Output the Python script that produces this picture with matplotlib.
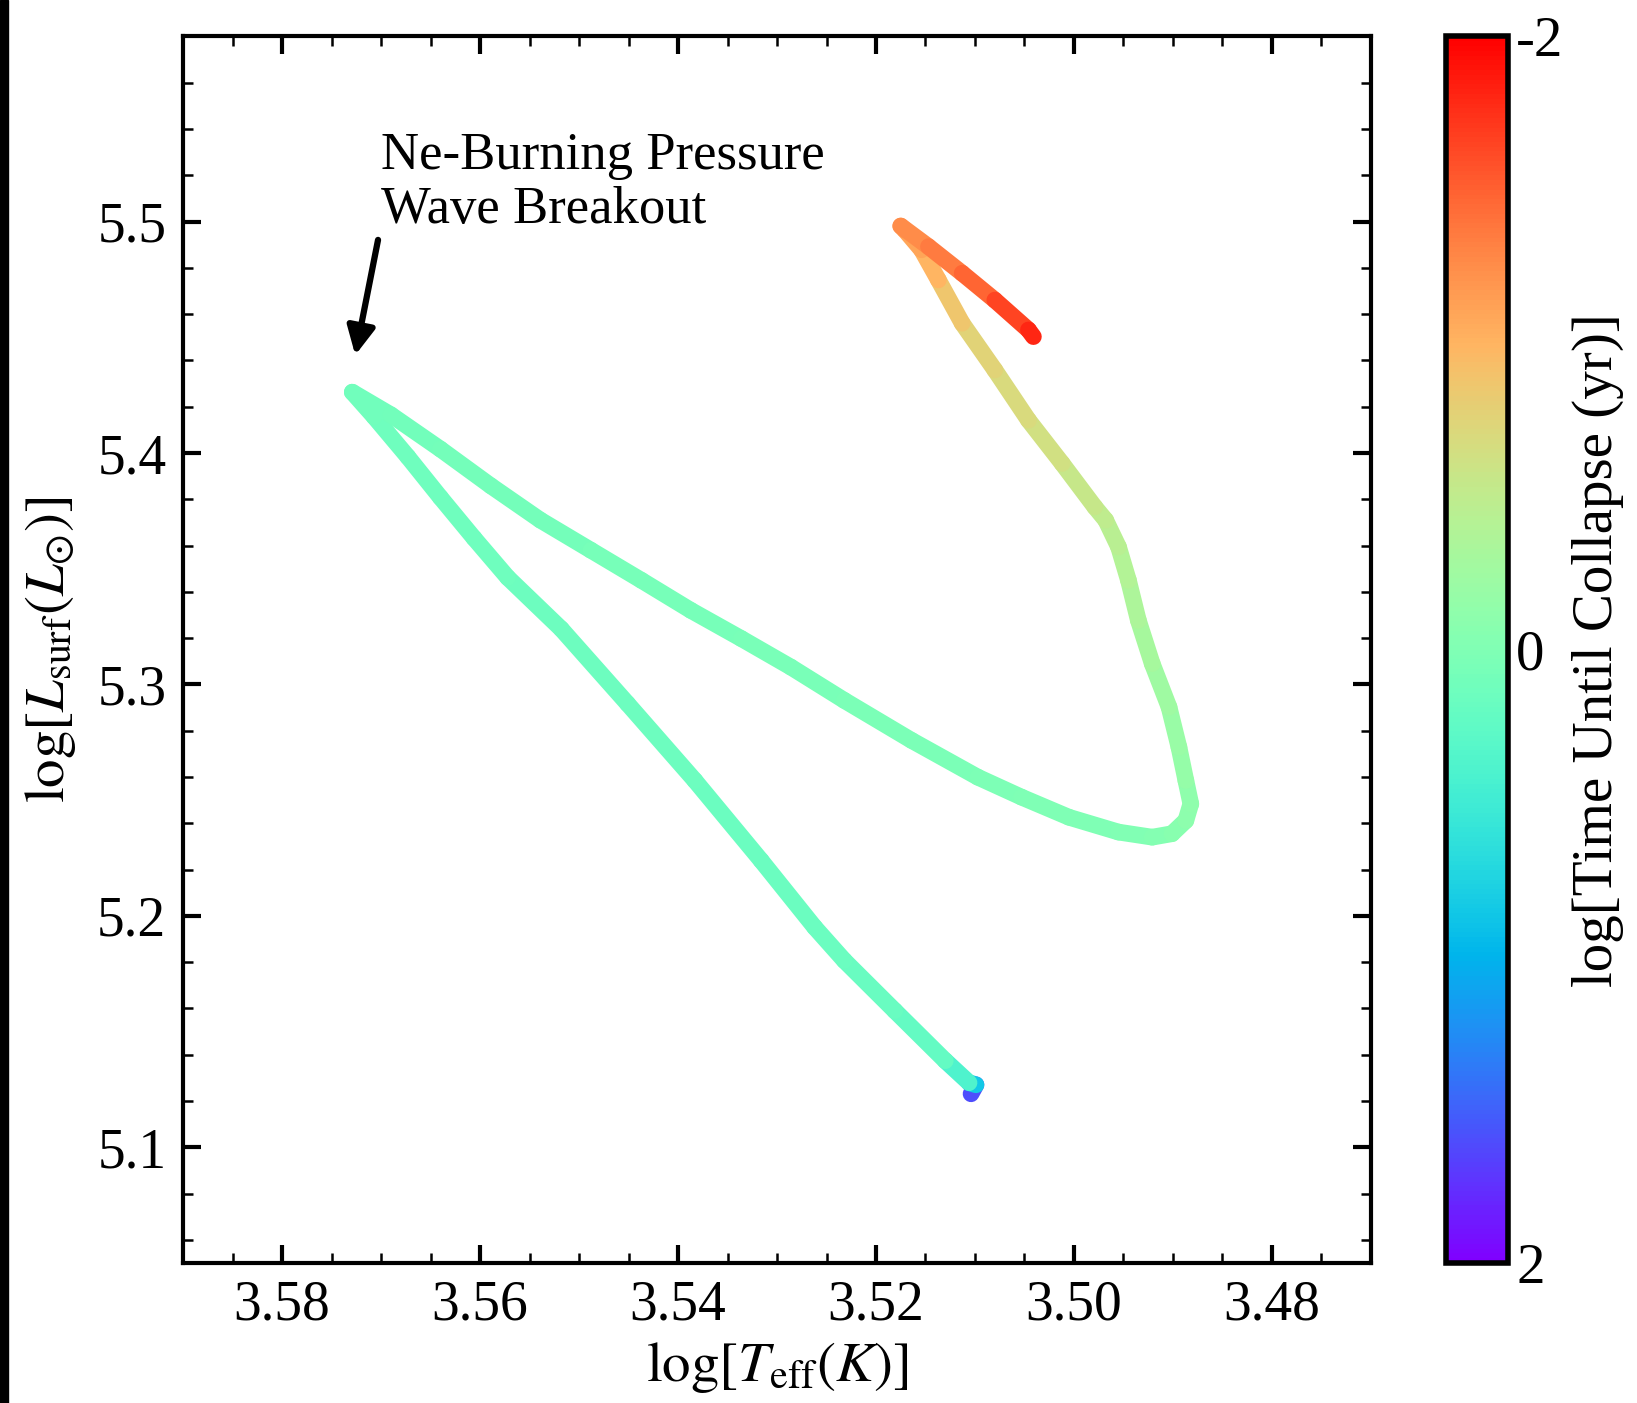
import numpy as np
import matplotlib
matplotlib.use("Agg")
import matplotlib.pyplot as plt
from matplotlib.collections import LineCollection
from matplotlib.colors import Normalize
from matplotlib.patches import Rectangle
from matplotlib.ticker import MultipleLocator

plt.rcParams['font.family'] = ['Liberation Serif', 'DejaVu Serif']
plt.rcParams['mathtext.fontset'] = 'stix'

# HR track (time ordered: from the bottom start to the red end)
log_teff = [3.5104, 3.5099, 3.5106, 3.5130, 3.5181, 3.5232, 3.5262, 3.5316,
            3.5383, 3.5451, 3.5518, 3.5572, 3.5606, 3.5640, 3.5673, 3.5707,
            3.5729, 3.5690, 3.5640, 3.5589, 3.5539, 3.5488, 3.5437, 3.5387,
            3.5336, 3.5286, 3.5232, 3.5164, 3.5097, 3.5053, 3.5005, 3.4955,
            3.4921, 3.4901, 3.4887, 3.4882, 3.4887, 3.4894, 3.4904, 3.4921,
            3.4935, 3.4945, 3.4955, 3.4968, 3.4979, 3.5012, 3.5046, 3.5080,
            3.5113, 3.5137, 3.5154, 3.5171, 3.5175, 3.5147, 3.5113, 3.5080,
            3.5046, 3.5041]
log_lsurf = [5.1231, 5.1270, 5.1279, 5.1374, 5.1590, 5.1807, 5.1951, 5.2239,
             5.2585, 5.2917, 5.3240, 5.3462, 5.3632, 5.3808, 5.3984, 5.4157,
             5.4263, 5.4165, 5.4017, 5.3858, 5.3710, 5.3580, 5.3450, 5.3320,
             5.3198, 5.3075, 5.2931, 5.2758, 5.2599, 5.2513, 5.2426, 5.2362,
             5.2340, 5.2355, 5.2412, 5.2484, 5.2585, 5.2729, 5.2902, 5.3090,
             5.3277, 5.3450, 5.3594, 5.3710, 5.3767, 5.3955, 5.4142, 5.4359,
             5.4561, 5.4748, 5.4878, 5.4964, 5.4981, 5.4892, 5.4777, 5.4661,
             5.4532, 5.4503]
log_t_collapse = [2.0, 1.2, 0.5, 0.25, 0.18, 0.17, 0.17, 0.16,
                  0.16, 0.15, 0.15, 0.14, 0.14, 0.13, 0.13, 0.12,
                  0.12, 0.10, 0.09, 0.09, 0.08, 0.08, 0.07, 0.07,
                  0.06, 0.06, 0.05, 0.04, 0.03, 0.02, 0.01, 0.0,
                  -0.02, -0.05, -0.08, -0.11, -0.14, -0.18, -0.22, -0.28,
                  -0.33, -0.38, -0.42, -0.48, -0.52, -0.6, -0.66, -0.72,
                  -0.8, -0.95, -1.05, -1.15, -1.22, -1.3, -1.4, -1.55,
                  -1.75, -1.85]

note = "Ne-Burning Pressure\nWave Breakout"

fig = plt.figure(figsize=(16.37, 14.03), dpi=100)
ax = fig.add_axes([0.1118, 0.0998, 0.7257, 0.8742])
cax = fig.add_axes([0.8833, 0.0998, 0.0379, 0.8742])

# thin dark strip on the left edge of the original image
fig.patches.append(Rectangle((0, 0), 8 / 1637, 1, transform=fig.transFigure,
                             color='black', zorder=0))

pts = np.column_stack([log_teff, log_lsurf]).reshape(-1, 1, 2)
segs = np.concatenate([pts[:-1], pts[1:]], axis=1)
vals = np.asarray(log_t_collapse)
norm = Normalize(vmin=-2, vmax=2)
lc = LineCollection(segs, cmap='rainbow_r', norm=norm, linewidths=12,
                    capstyle='round', joinstyle='round')
lc.set_array(0.5 * (vals[:-1] + vals[1:]))
ax.add_collection(lc)

ax.set_xlim(3.59, 3.47)
ax.set_ylim(5.05, 5.58)
ax.xaxis.set_major_locator(MultipleLocator(0.02))
ax.xaxis.set_minor_locator(MultipleLocator(0.005))
ax.yaxis.set_major_locator(MultipleLocator(0.1))
ax.yaxis.set_minor_locator(MultipleLocator(0.02))
ax.xaxis.set_major_formatter(plt.FuncFormatter(lambda v, _: f"{v:.2f}"))
ax.yaxis.set_major_formatter(plt.FuncFormatter(lambda v, _: f"{v:.1f}"))
ax.tick_params(which='both', direction='in', top=True, right=True,
               labelsize=40, width=3)
ax.tick_params(which='major', length=13, pad=12)
ax.tick_params(which='minor', length=7, width=1.8)
for s in ax.spines.values():
    s.set_linewidth(3)

ax.set_xlabel(r'$\log[T_{\rm eff}(K)]$', fontsize=41, labelpad=6)
ax.set_ylabel(r'$\log[L_{\rm surf}(L_{\odot})]$', fontsize=41, labelpad=14)

ax.annotate('', xy=(3.5726, 5.4423), xytext=(3.5703, 5.4921),
            arrowprops=dict(arrowstyle='-|>', lw=4.5, color='black',
                            mutation_scale=42, shrinkA=0, shrinkB=0))
ax.text(3.5700, 5.4995, note, fontsize=38, ha='left', va='baseline',
        linespacing=1.15)

cb = fig.colorbar(lc, cax=cax)
cax.invert_yaxis()
cb.set_ticks([-2, 0, 2])
cb.set_ticklabels(['-2', '0', '2'])
cax.tick_params(length=0, labelsize=41, pad=6)
cb.outline.set_linewidth(4)
cb.set_label('log[Time Until Collapse (yr)]', fontsize=41, labelpad=6)

fig.savefig('out.png', dpi=100)
